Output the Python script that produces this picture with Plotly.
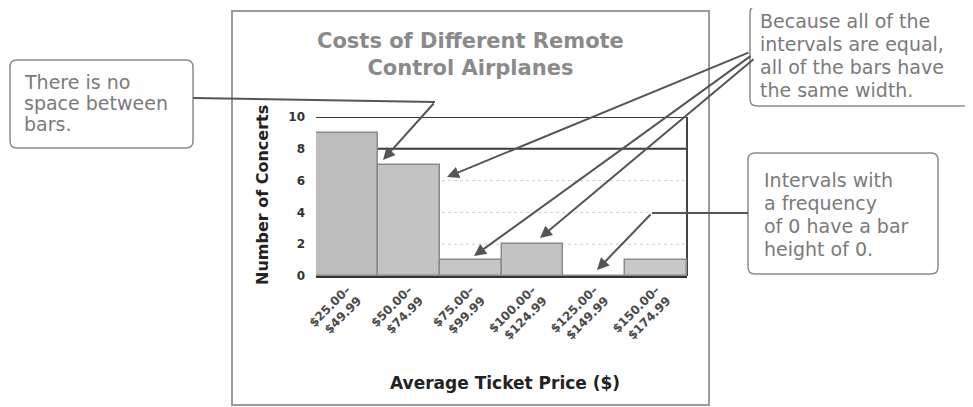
import plotly.graph_objects as go

# ---- data ----
categories = ["$25.00–<br>$49.99", "$50.00–<br>$74.99", "$75.00–<br>$99.99",
              "$100.00–<br>$124.99", "$125.00–<br>$149.99", "$150.00–<br>$174.99"]
concerts = [9, 7, 1, 2, 0, 1]
y_ticks = [0, 2, 4, 6, 8, 10]
light_grid = [2, 4, 6]
dark_grid = [8, 10]
bar_colors = ["#bdbdbd", "#c3c3c3", "#c6c6c6", "#c4c4c4", "#c6c6c6", "#c8c8c8"]

W, H = 973, 407
OFF = 8                             # browser body margin
L, R, T, B = 316, 687, 117, 276     # plot area in page pixels


def px(x):
    return (x - L) / (R - L)


def py(y):
    return (B - y) / (B - T)


def rounded(x0, y0, x1, y1, r):
    pts = [
        f"M {px(x0 + r)} {py(y0)}",
        f"L {px(x1 - r)} {py(y0)}",
        f"Q {px(x1)} {py(y0)} {px(x1)} {py(y0 + r)}",
        f"L {px(x1)} {py(y1 - r)}",
        f"Q {px(x1)} {py(y1)} {px(x1 - r)} {py(y1)}",
        f"L {px(x0 + r)} {py(y1)}",
        f"Q {px(x0)} {py(y1)} {px(x0)} {py(y1 - r)}",
        f"L {px(x0)} {py(y0 + r)}",
        f"Q {px(x0)} {py(y0)} {px(x0 + r)} {py(y0)}",
        "Z",
    ]
    return " ".join(pts)


fig = go.Figure(go.Bar(
    x=categories, y=concerts,
    marker=dict(color=bar_colors, line=dict(color="#8a8a8a", width=1.5)),
))

COND = "Liberation Sans Narrow, DejaVu Sans, sans-serif"
NOTE = "DejaVu Sans, Verdana, sans-serif"

fig.update_layout(
    width=W - OFF, height=H - OFF,
    margin=dict(l=L - OFF, r=W - R, t=T - OFF, b=H - B, pad=0),
    paper_bgcolor="white", plot_bgcolor="white",
    bargap=0, showlegend=False,
    xaxis=dict(
        tickangle=-45,
        tickfont=dict(family=COND, size=12, color="#4a4a4a", weight="bold"),
        showline=True, linecolor="#333", linewidth=2,
        showgrid=False, ticks="",
    ),
    yaxis=dict(
        range=[0, 10], tickvals=y_ticks,
        tickfont=dict(family=COND, size=12, color="#333", weight="bold"),
        showgrid=False, zeroline=False, showline=False, ticks="",
        ticklabelstandoff=10,
    ),
)

shapes = []
# outer chart frame
shapes.append(dict(type="rect", xref="paper", yref="paper",
                   x0=px(232), x1=px(709), y0=py(11), y1=py(405),
                   line=dict(color="#9a9a9a", width=2), layer="below"))
# grid lines
for g in light_grid:
    shapes.append(dict(type="line", xref="paper", yref="y", x0=0, x1=1, y0=g, y1=g,
                       line=dict(color="#d0d0d0", width=1, dash="dot"), layer="below"))
for g in dark_grid:
    shapes.append(dict(type="line", xref="paper", yref="y", x0=0, x1=1, y0=g, y1=g,
                       line=dict(color="#3a3a3a", width=2), layer="below"))
# right side of plot frame
shapes.append(dict(type="line", xref="paper", yref="y", x0=1, x1=1, y0=0, y1=y_ticks[-1],
                   line=dict(color="#444", width=2), layer="below"))
# callout boxes
for box in [(10, 60, 193, 148), (750, 6, 970, 106), (748, 153, 938, 274)]:
    shapes.append(dict(type="path", xref="paper", yref="paper",
                       path=rounded(*box, 7),
                       line=dict(color="#8c8c8c", width=1.5)))
# connector segments
for (x0, y0, x1, y1) in [(193, 98, 435, 102), (748, 213, 652, 213)]:
    shapes.append(dict(type="line", xref="paper", yref="paper",
                       x0=px(x0), y0=py(y0), x1=px(x1), y1=py(y1),
                       line=dict(color="#555", width=2)))
fig.update_layout(shapes=shapes)

ann = []
# title
ann.append(dict(xref="paper", yref="paper", x=px(470), y=py(54),
                text="<b>Costs of Different Remote<br>Control Airplanes</b>",
                showarrow=False, xanchor="center", yanchor="middle",
                font=dict(family=COND, size=21, color="#8a8a8a")))
# axis titles
ann.append(dict(xref="paper", yref="paper", x=px(262), y=py(195),
                text="<b>Number of Concerts</b>", textangle=-90,
                showarrow=False, xanchor="center", yanchor="middle",
                font=dict(family=COND, size=16, color="#222")))
ann.append(dict(xref="paper", yref="paper", x=px(505), y=py(383),
                text="<b>Average Ticket Price ($)</b>",
                showarrow=False, xanchor="center", yanchor="middle",
                font=dict(family=COND, size=17, color="#222")))
# callout texts, one annotation per line
notes = [
    (22, [82, 103, 124], ["There is no", "space between", "bars."]),
    (758, [21, 44, 67, 90], ["Because all of the", "intervals are equal,",
                             "all of the bars have", "the same width."]),
    (762, [180, 203, 226, 249], ["Intervals with", "a frequency",
                                  "of 0 have a bar", "height of 0."]),
]
for x, ys, lines in notes:
    for y, t in zip(ys, lines):
        ann.append(dict(xref="paper", yref="paper", x=px(x), y=py(y), text=t,
                        showarrow=False, xanchor="left", yanchor="middle", align="left",
                        font=dict(family=NOTE, size=19, color="#7a7a7a")))
# arrows: (tail_x, tail_y, head_x, head_y)
arrows = [
    (435, 102, 383, 160),
    (750, 52, 447, 177),
    (752, 55, 474, 256),
    (755, 58, 540, 238),
    (652, 213, 597, 270),
]
for tx, ty, hx, hy in arrows:
    ann.append(dict(xref="paper", yref="paper", x=px(hx), y=py(hy),
                    ax=tx - hx, ay=ty - hy, text="", showarrow=True,
                    arrowhead=2, arrowsize=1.2, arrowwidth=2, arrowcolor="#555",
                    standoff=0, startstandoff=0))
fig.update_layout(annotations=ann)

fig.write_html("out.html")
